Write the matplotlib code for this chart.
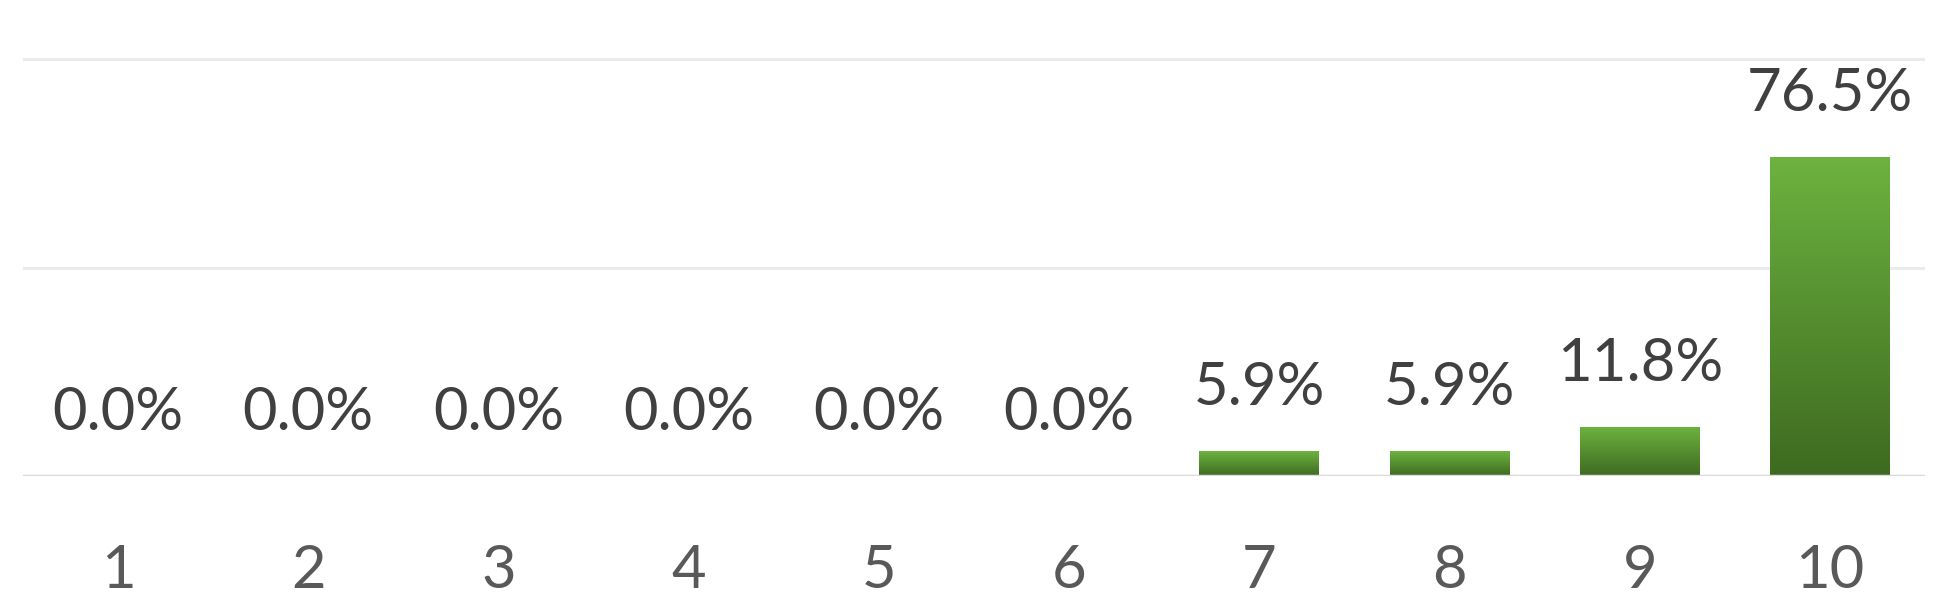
import numpy as np
import matplotlib
matplotlib.use("Agg")
import matplotlib.pyplot as plt
from matplotlib.colors import LinearSegmentedColormap

categories = ["1", "2", "3", "4", "5", "6", "7", "8", "9", "10"]
values = [0.0, 0.0, 0.0, 0.0, 0.0, 0.0, 5.9, 5.9, 11.8, 76.5]

plt.rcParams['font.family'] = ['Lato', 'DejaVu Sans']

W, H, DPI = 1949, 613, 100
fig = plt.figure(figsize=(W / DPI, H / DPI), dpi=DPI)
ymax = 105
base = (613 - 476) / 613
unit = (476 - 59) / 613 / 100
ax = fig.add_axes([23 / W, base, (1925 - 23) / W, unit * ymax])

x = np.arange(len(categories))
bars = ax.bar(x, values, width=0.63, color="none", edgecolor="none", zorder=3)

cmap = LinearSegmentedColormap.from_list("g", ["#3d6a20", "#6db33f"])
grad = np.linspace(0, 1, 256).reshape(-1, 1)
for b in bars:
    h = b.get_height()
    if h <= 0:
        continue
    im = ax.imshow(grad, cmap=cmap, origin="lower", aspect="auto",
                   extent=[b.get_x(), b.get_x() + b.get_width(), 0, h], zorder=3)
    im.set_clip_path(b)

labels = ax.bar_label(bars, labels=[f"{v:.1f}%" for v in values], padding=26,
                      fontsize=43, color="#404040")

ax.set_xlim(-0.5, len(categories) - 0.5)
ax.set_ylim(0, ymax)
for yv in [50, 100]:
    ax.axhline(yv, color="#ebebeb", lw=2.2, zorder=1)
ax.axhline(0, color="#d9d9d9", lw=2.5, zorder=4)

ax.set_xticks(x)
ax.set_xticklabels(categories, fontsize=43, color="#595959")
ax.tick_params(axis="x", length=0, pad=49)
ax.set_yticks([])
for s in ax.spines.values():
    s.set_visible(False)

fig.savefig("out.png", dpi=DPI)
